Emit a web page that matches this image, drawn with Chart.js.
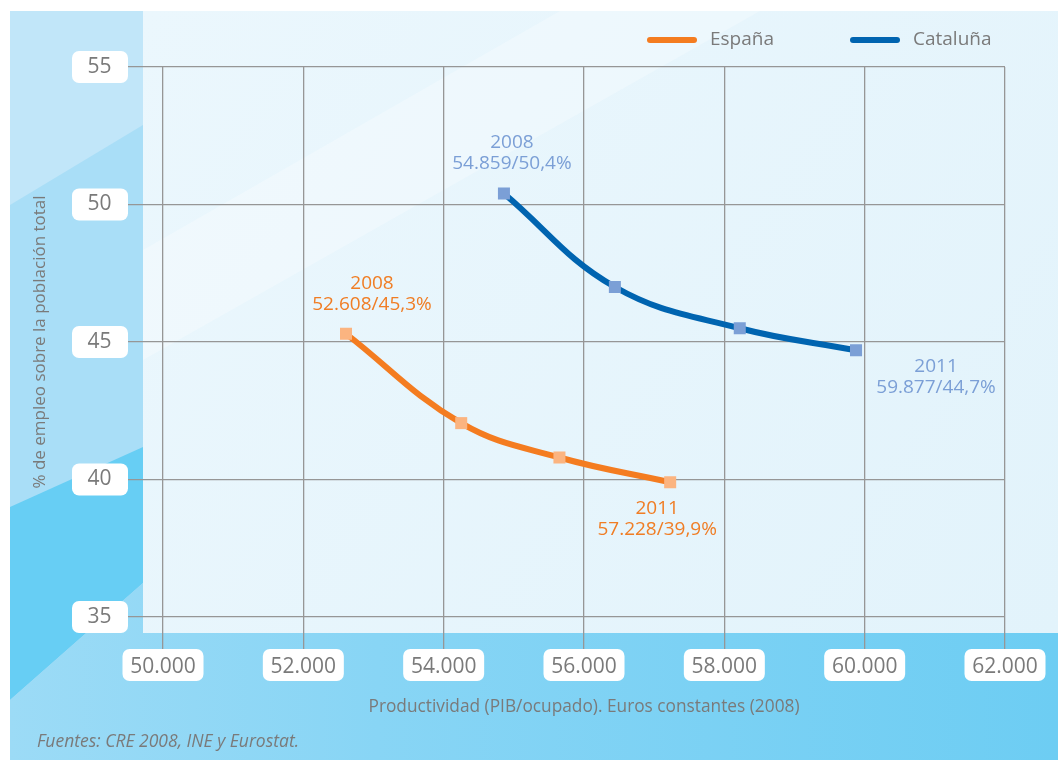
<!DOCTYPE html>
<html><head><meta charset="utf-8">
<script src="https://cdn.jsdelivr.net/npm/chart.js@4.4.1/dist/chart.umd.min.js"></script>
<style>html,body{margin:0;padding:0;background:#fff;overflow:hidden}canvas{display:block}</style>
</head><body>
<canvas id="c" width="1058" height="760"></canvas>
<script>
// ---- data ----
const seriesNames = ['España', 'Cataluña'];
const espanaX = [52608, 54250, 55650, 57228];
const espanaY = [45.3, 42.05, 40.8, 39.9];
const cataluX = [54859, 56440, 58220, 59877];
const cataluY = [50.4, 47.0, 45.5, 44.7];
const pointYears = ['2008', '', '', '2011'];
const xTickValues = [50000, 52000, 54000, 56000, 58000, 60000, 62000];
const yTickValues = [35, 40, 45, 50, 55];
const xTitle = 'Productividad (PIB/ocupado). Euros constantes (2008)';
const yTitle = '% de empleo sobre la población total';
const sourceNote = 'Fuentes: CRE 2008, INE y Eurostat.';

const FONT = "'Open Sans', 'Noto Sans', sans-serif";
const GRAY = '#7a7a7a';
const fmtThousands = v => Math.round(v).toString().replace(/\B(?=(\d{3})+(?!\d))/g, '.');
const fmtPct = v => v.toFixed(1).replace('.', ',') + '%';

const toPoints = (xs, ys) => xs.map((x, i) => ({x: x, y: ys[i]}));

const bgPlugin = {
  id: 'bg',
  beforeDraw(chart) {
    const ctx = chart.ctx;
    const W = chart.width, H = chart.height;
    ctx.save();
    ctx.fillStyle = '#ffffff';
    ctx.fillRect(0, 0, W, H);
    // outer blue panel base
    ctx.fillStyle = '#a9def7';
    ctx.fillRect(10, 11, W - 10, H - 11);
    // lighter top-left corner
    ctx.fillStyle = '#c1e6f9';
    ctx.beginPath();
    ctx.moveTo(10, 11); ctx.lineTo(143, 11); ctx.lineTo(143, 125); ctx.lineTo(10, 205); ctx.closePath();
    ctx.fill();
    // darker saturated band on left strip
    ctx.fillStyle = '#67cef4';
    ctx.beginPath();
    ctx.moveTo(10, 507); ctx.lineTo(143, 447); ctx.lineTo(143, 583); ctx.lineTo(10, 700); ctx.closePath();
    ctx.fill();
    // bottom area
    let g = ctx.createLinearGradient(10, 0, W, 0);
    g.addColorStop(0, '#9cdbf6');
    g.addColorStop(0.35, '#88d5f5');
    g.addColorStop(1, '#6dcdf3');
    ctx.fillStyle = g;
    ctx.beginPath();
    ctx.moveTo(10, 700); ctx.lineTo(143, 583); ctx.lineTo(143, 633); ctx.lineTo(W, 633); ctx.lineTo(W, H); ctx.lineTo(10, H); ctx.closePath();
    ctx.fill();
    // light plot panel
    g = ctx.createLinearGradient(143, 11, 1058, 633);
    g.addColorStop(0, '#ebf7fd');
    g.addColorStop(1, '#e2f3fb');
    ctx.fillStyle = g;
    ctx.fillRect(143, 11, W - 143, 633 - 11);
    ctx.fillStyle = 'rgba(255,255,255,0.28)';
    ctx.beginPath();
    ctx.moveTo(143, 250); ctx.lineTo(560, 11); ctx.lineTo(760, 11); ctx.lineTo(143, 360); ctx.closePath();
    ctx.fill();
    ctx.restore();
  }
};

function roundRect(ctx, x, y, w, h, r) {
  ctx.beginPath();
  ctx.moveTo(x + r, y);
  ctx.arcTo(x + w, y, x + w, y + h, r);
  ctx.arcTo(x + w, y + h, x, y + h, r);
  ctx.arcTo(x, y + h, x, y, r);
  ctx.arcTo(x, y, x + w, y, r);
  ctx.closePath();
}

const tickBoxPlugin = {
  id: 'tickBoxes',
  beforeDraw(chart) {
    const ctx = chart.ctx;
    const xs = chart.scales.x, ys = chart.scales.y;
    ctx.save();
    ctx.fillStyle = '#ffffff';
    const ytl = ys.options.grid.tickLength;
    ys.ticks.forEach(t => {
      const py = ys.getPixelForValue(t.value);
      roundRect(ctx, ys.right - ytl - 56, py - 16, 56, 32, 7);
      ctx.fill();
    });
    const xtl = xs.options.grid.tickLength;
    xs.ticks.forEach(t => {
      const px = xs.getPixelForValue(t.value);
      roundRect(ctx, px - 40.5, xs.top + xtl, 81, 32, 7);
      ctx.fill();
    });
    ctx.restore();
  }
};

const annotPlugin = {
  id: 'annot',
  afterDraw(chart) {
    const ctx = chart.ctx;
    ctx.save();
    // point labels (first and last point of each series)
    const offsets = [
      [[26, -50], null, null, [-13, 26]],
      [[8, -51], null, null, [80, 16]]
    ];
    chart.data.datasets.forEach((ds, di) => {
      const meta = chart.getDatasetMeta(di);
      ctx.fillStyle = ds.labelColor;
      ctx.font = '19px ' + FONT;
      ctx.textAlign = 'center';
      ctx.textBaseline = 'middle';
      ds.data.forEach((p, i) => {
        if (!pointYears[i]) return;
        const el = meta.data[i];
        const [dx, dy] = offsets[di][i];
        ctx.fillText(pointYears[i], el.x + dx, el.y + dy);
        ctx.fillText(fmtThousands(p.x) + '/' + fmtPct(p.y), el.x + dx, el.y + dy + 21);
      });
    });
    // legend
    const legendX = [647, 850];
    chart.data.datasets.forEach((ds, di) => {
      const lx = legendX[di], ly = 40;
      ctx.strokeStyle = ds.borderColor;
      ctx.lineWidth = 6;
      ctx.lineCap = 'round';
      ctx.beginPath();
      ctx.moveTo(lx + 3, ly); ctx.lineTo(lx + 47, ly);
      ctx.stroke();
      ctx.fillStyle = GRAY;
      ctx.font = '19px ' + FONT;
      ctx.textAlign = 'left';
      ctx.textBaseline = 'middle';
      ctx.fillText(ds.label, lx + 63, ly);
    });
    // source note
    ctx.fillStyle = GRAY;
    ctx.font = 'italic 17.5px ' + FONT;
    ctx.textAlign = 'left';
    ctx.textBaseline = 'middle';
    ctx.fillText(sourceNote, 37, 742);
    ctx.restore();
  }
};

new Chart(document.getElementById('c'), {
  type: 'line',
  data: {
    datasets: [
      {
        label: seriesNames[0],
        data: toPoints(espanaX, espanaY),
        borderColor: '#f47c20',
        labelColor: '#f07d24',
        borderWidth: 6,
        tension: 0.4,
        pointStyle: 'rect',
        pointRadius: 8.5,
        pointBackgroundColor: '#fbb480',
        pointBorderWidth: 0
      },
      {
        label: seriesNames[1],
        data: toPoints(cataluX, cataluY),
        borderColor: '#0064b0',
        labelColor: '#7b9fd6',
        borderWidth: 6,
        tension: 0.4,
        pointStyle: 'rect',
        pointRadius: 8.5,
        pointBackgroundColor: '#7b9fd6',
        pointBorderWidth: 0
      }
    ]
  },
  options: {
    responsive: false,
    animation: false,
    devicePixelRatio: 1,
    layout: { padding: { top: 67, right: 53, left: 0, bottom: 0 } },
    plugins: { legend: { display: false }, tooltip: { enabled: false } },
    scales: {
      x: {
        type: 'linear',
        min: xTickValues[0],
        max: xTickValues[xTickValues.length - 1],
        afterBuildTicks: s => { s.ticks = xTickValues.map(v => ({value: v})); },
        afterFit: s => { s.height = 143; },
        grid: { color: '#969696', lineWidth: 1.3, tickLength: 32, tickColor: '#969696' },
        border: { display: false },
        ticks: {
          color: GRAY,
          font: { family: FONT, size: 21 },
          padding: 5,
          maxRotation: 0,
          callback: v => fmtThousands(v)
        },
        title: {
          display: true,
          text: xTitle,
          color: GRAY,
          font: { family: FONT, size: 17.3 },
          padding: { top: 0, bottom: 43 }
        }
      },
      y: {
        type: 'linear',
        min: yTickValues[0],
        max: yTickValues[yTickValues.length - 1],
        afterBuildTicks: s => { s.ticks = yTickValues.map(v => ({value: v})); },
        afterFit: s => { s.width = 163; },
        grid: { color: '#969696', lineWidth: 1.3, tickLength: 35, tickColor: '#969696' },
        border: { display: false },
        ticks: {
          color: GRAY,
          font: { family: FONT, size: 21 },
          padding: 16.5,
          crossAlign: 'center',
          callback: v => String(v)
        },
        title: {
          display: true,
          text: yTitle,
          color: GRAY,
          font: { family: FONT, size: 17 },
          padding: { top: 30, bottom: 0 }
        }
      }
    }
  },
  plugins: [bgPlugin, tickBoxPlugin, annotPlugin]
});
</script>
</body></html>
